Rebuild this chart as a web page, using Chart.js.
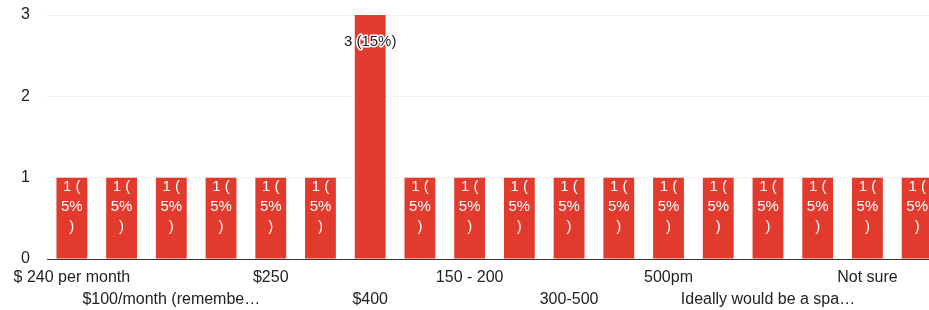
<!DOCTYPE html>
<html lang="en">
<head>
    <meta charset="UTF-8">
    <title>Monthly budget responses</title>
    <script src="https://cdn.jsdelivr.net/npm/chart.js"></script>
    <style>
        html, body { margin: 0; padding: 0; background: #fff; overflow: hidden; }
        #wrap { width: 929px; height: 310px; overflow: hidden; }
    </style>
</head>
<body>
    <div id="wrap">
        <canvas id="budgetChart" width="960" height="310"></canvas>
    </div>

    <script>
        // answers (sorted like the form summary), only every other one is labelled
        const categories = [
            '$ 240 per month', '$100', '$100/month (remembe\u2026', '$200', '$250', '$300',
            '$400', '$500', '150 - 200', '200-300', '300-500', '400',
            '500pm', 'Depends on the area', 'Ideally would be a spa\u2026', 'No idea', 'Not sure', 'Under $300'
        ];
        const counts = [1, 1, 1, 1, 1, 1, 3, 1, 1, 1, 1, 1, 1, 1, 1, 1, 1, 1];
        const yTicks = [0, 1, 2, 3];

        const total = counts.reduce((a, b) => a + b, 0);
        const FONT = '"Liberation Sans", Arial, sans-serif';

        // value labels inside / on top of the bars
        const barLabels = {
            id: 'barLabels',
            afterDatasetsDraw(chart) {
                const ctx = chart.ctx;
                const meta = chart.getDatasetMeta(0);
                ctx.save();
                ctx.font = '15px ' + FONT;
                ctx.textAlign = 'center';
                ctx.textBaseline = 'middle';
                meta.data.forEach((bar, i) => {
                    const v = counts[i];
                    const pct = Math.round(v / total * 100);
                    if (v > 1) {
                        const txt = v + ' (' + pct + '%)';
                        ctx.lineWidth = 3;
                        ctx.strokeStyle = '#ffffff';
                        ctx.lineJoin = 'round';
                        ctx.strokeText(txt, bar.x, bar.y + 27);
                        ctx.fillStyle = '#222222';
                        ctx.fillText(txt, bar.x, bar.y + 27);
                    } else {
                        ctx.fillStyle = '#ffffff';
                        const lines = [v + ' (', pct + '%', ')'];
                        lines.forEach((ln, k) => ctx.fillText(ln, bar.x, bar.y + 9 + k * 20));
                    }
                });
                ctx.restore();
            }
        };

        new Chart(document.getElementById('budgetChart'), {
            type: 'bar',
            data: {
                labels: categories,
                datasets: [{
                    data: counts,
                    backgroundColor: '#e23b2e',
                    borderWidth: 0,
                    barPercentage: 0.62,
                    categoryPercentage: 1.0
                }]
            },
            options: {
                responsive: false,
                animation: false,
                layout: { padding: { top: 15, left: 0, right: 18, bottom: 0 } },
                plugins: {
                    legend: { display: false },
                    tooltip: { enabled: false }
                },
                scales: {
                    x: {
                        grid: { display: false, drawTicks: false },
                        border: { display: true, color: '#333333', width: 1 },
                        afterFit: s => { s.height = 51; s.paddingTop = 0; },
                        ticks: {
                            autoSkip: false,
                            maxRotation: 0,
                            minRotation: 0,
                            padding: 7,
                            color: '#222222',
                            font: { family: FONT, size: 16, lineHeight: 1.4 },
                            callback: function (val, i) {
                                if (i % 2 === 1) return '';
                                const lbl = categories[i];
                                return (i / 2) % 2 === 0 ? [lbl, ''] : ['', lbl];
                            }
                        }
                    },
                    y: {
                        min: 0,
                        max: 3,
                        afterFit: s => { s.width = 47; s.paddingTop = 0; s.paddingBottom = 0; },
                        afterBuildTicks: s => { s.ticks = yTicks.map(v => ({ value: v })); },
                        grid: { color: 'rgba(0,0,0,0.05)', drawTicks: false },
                        border: { display: false },
                        ticks: {
                            padding: 17,
                            color: '#222222',
                            font: { family: FONT, size: 16 }
                        }
                    }
                }
            },
            plugins: [barLabels]
        });
    </script>
</body>
</html>
